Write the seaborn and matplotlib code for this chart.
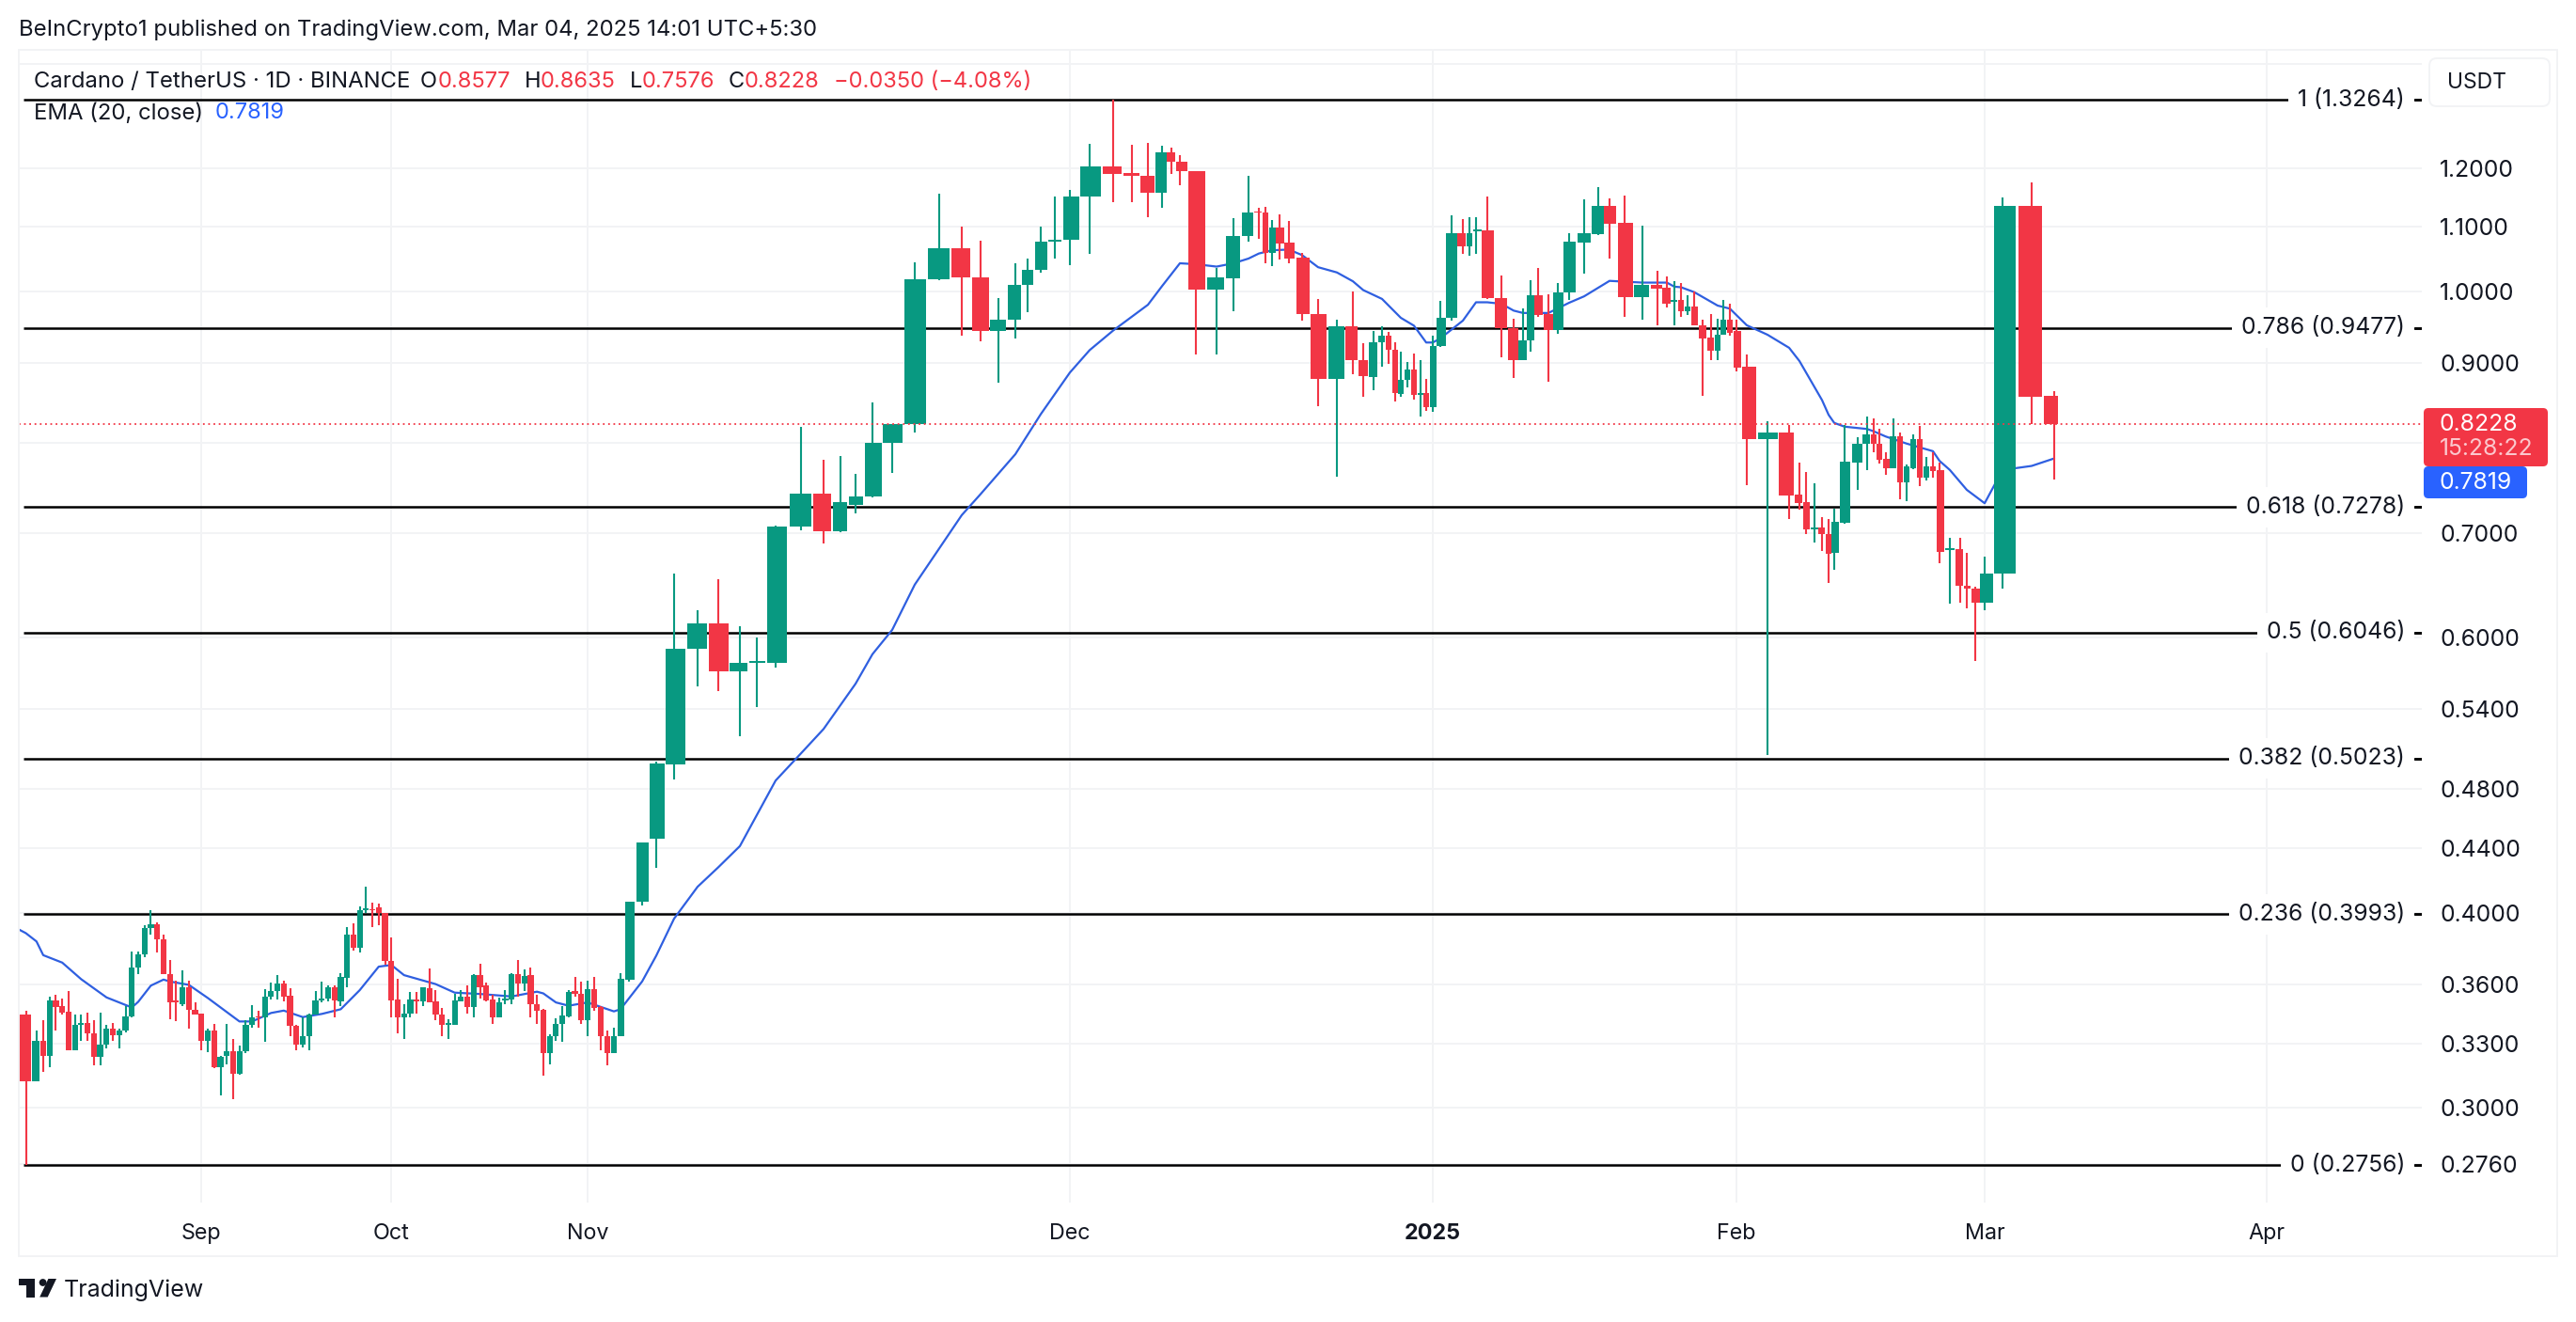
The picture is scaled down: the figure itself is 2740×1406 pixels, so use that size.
import matplotlib
matplotlib.use("Agg")
import matplotlib.pyplot as plt
import matplotlib.patches as patches
import matplotlib.transforms as mtransforms
from matplotlib.ticker import NullFormatter, NullLocator
import numpy as np
import pandas as pd
import seaborn as sns

W, H = 2740, 1406

# daily candles 2024-08-05 .. 2025-03-04
opens = [
    .3444, .3118, .3311, .3241, .3517, .3486, .3456, .3268, .3392, .3400,
    .3347, .3235, .3295, .3373, .3338, .3365, .3432, .3688, .3763, .3911,
    .3932, .3846, .3655, .3513, .3495, .3582, .3468, .3449, .3311, .3362,
    .3187, .3238, .3261, .3153, .3261, .3390, .3435, .3428, .3533, .3565,
    .3606, .3542, .3385, .3294, .3336, .3444, .3513, .3524, .3585, .3512,
    .3636, .3874, .3798, .4016, .4022, .4035, .3998, .3727, .3519, .3430,
    .3448, .3519, .3510, .3577, .3510, .3445, .3392, .3392, .3512, .3537,
    .3483, .3647, .3593, .3519, .3430, .3513, .3520, .3652, .3605, .3647,
    .3495, .3467, .3252, .3335, .3397, .3432, .3565, .3550, .3413, .3573,
    .3480, .3336, .3252, .3333, .3622, .4066, .4462, .4980, .5903, .6129,
    .5709, .5785, .5785, .7071, .7424, .7021, .7300, .7390, .8000, .8225,
    1.0184, 1.0660, 1.0210, .9430, .9600, 1.0106, 1.0320, 1.0770, 1.0790, 1.1500,
    1.2023, 1.1915, 1.1865, 1.1572, 1.2282, 1.2110, 1.1948, 1.0033, 1.0200, 1.0850,
    1.1258, 1.1235, 1.0582, 1.0987, 1.0748, 1.0520, .9680, .8787, .9497, .9045,
    .8820, .9275, .9375, .9182, .8600, .8780, .8915, .8590, .8615, .8436,
    .9225, .9620, 1.0895, 1.0693, 1.0935, 1.0945, .9900, .9475, .9037, .9300,
    .9950, .9680, .9453, .9985, 1.0750, 1.0885, 1.1355, 1.1065, .9916, 1.0105,
    1.0060, .9850, .9878, .9713, .9778, .9520, .9345, .9167, .9385, .9595,
    .9430, .8953, .8046, .8125, .7415, .7330, .7043, .7065, .6996, .6805,
    .7112, .7770, .7985, .8103, .7990, .7810, .7709, .8076, .7544, .7710,
    .8040, .7604, .7727, .7685, .6830, .6840, .6480, .6455, .6322, .6596,
    1.1348, .8577,
]
highs = [
    .3463, .3365, .3413, .3537, .3544, .3524, .3565, .3444, .3444, .3451,
    .3414, .3451, .3392, .3400, .3373, .3486, .3778, .3778, .3929, .4017,
    .3945, .3873, .3732, .3618, .3674, .3618, .3507, .3450, .3373, .3397,
    .3238, .3397, .3321, .3290, .3413, .3492, .3464, .3573, .3610, .3650,
    .3618, .3578, .3390, .3430, .3448, .3565, .3613, .3593, .3593, .3660,
    .3918, .3938, .4037, .4157, .4063, .4055, .4000, .3859, .3630, .3497,
    .3561, .3561, .3585, .3686, .3568, .3477, .3420, .3550, .3568, .3593,
    .3655, .3710, .3610, .3545, .3530, .3568, .3662, .3732, .3680, .3688,
    .3545, .3470, .3345, .3425, .3486, .3568, .3638, .3615, .3618, .3638,
    .3485, .3365, .3378, .3662, .4066, .4438, .5000, .6600, .6249, .6541,
    .6101, .6001, .7083, .8189, .7800, .7847, .7648, .8488, .8230, 1.0444,
    1.1555, 1.1000, 1.0780, .9900, 1.0422, 1.0500, 1.1000, 1.1502, 1.1624, 1.2428,
    1.3264, 1.2418, 1.2448, 1.2394, 1.2366, 1.2236, 1.1948, 1.0350, 1.1147, 1.1859,
    1.1322, 1.1335, 1.1118, 1.1203, 1.1103, 1.0585, .9892, .9590, 1.0000, .9268,
    .9438, .9506, .9426, .9284, .9151, .9016, .9126, .9042, .8796, .9375,
    .9868, 1.1188, 1.1135, 1.1155, 1.1155, 1.1501, 1.0243, .9606, .9754, 1.0170,
    1.0361, .9958, 1.0130, 1.0893, 1.1465, 1.1666, 1.1476, 1.1523, 1.1024, 1.0305,
    1.0232, 1.0160, 1.0125, .9946, 1.0000, .9595, .9680, .9606, .9883, .9830,
    .9600, .9110, .8259, .8210, .7769, .7664, .7534, .7175, .7154, .7260,
    .8210, .8067, .8315, .8292, .8164, .7888, .8292, .8123, .7745, .8103,
    .8205, .7835, .7886, .7775, .6954, .6954, .6798, .6470, .6766, 1.1491,
    1.1748, .8635,
]
lows = [
    .2756, .3118, .3162, .3187, .3365, .3444, .3265, .3265, .3311, .3311,
    .3195, .3195, .3274, .3311, .3274, .3354, .3428, .3655, .3745, .3875,
    .3775, .3655, .3421, .3408, .3488, .3374, .3445, .3268, .3255, .3183,
    .3054, .3200, .3039, .3150, .3252, .3378, .3378, .3305, .3520, .3520,
    .3512, .3337, .3268, .3280, .3268, .3442, .3505, .3512, .3430, .3487,
    .3585, .3783, .3775, .4000, .3916, .3930, .3703, .3427, .3350, .3320,
    .3430, .3450, .3485, .3508, .3413, .3335, .3320, .3392, .3510, .3450,
    .3427, .3525, .3510, .3395, .3430, .3495, .3495, .3533, .3565, .3427,
    .3395, .3145, .3197, .3311, .3305, .3430, .3537, .3397, .3337, .3460,
    .3268, .3195, .3252, .3333, .3615, .4043, .4274, .4872, .5586, .5547,
    .5193, .5421, .5745, .7037, .6899, .7011, .7210, .7380, .7657, .8126,
    1.0168, .9377, .9298, .8749, .9332, .9698, 1.0290, 1.0500, 1.0395, 1.0578,
    1.1411, 1.1411, 1.1157, 1.1312, 1.1890, 1.1700, .9113, .9113, .9719, 1.0772,
    1.0815, 1.0421, 1.0386, 1.0481, 1.0421, .9583, .8442, .7611, .8848, .8565,
    .8645, .8950, .8994, .8506, .8565, .8679, .8522, .8318, .8387, .8380,
    .9215, .9575, 1.0578, 1.0540, 1.0578, .9895, .9076, .8806, .9037, .9148,
    .9630, .8761, .9403, .9883, 1.0275, 1.0866, 1.0497, .9628, .9595, .9516,
    .9775, .9516, .9628, .9665, .9516, .8580, .9045, .9033, .9380, .9370,
    .8884, .7520, .5049, .7154, .7249, .6990, .6909, .6822, .6504, .6635,
    .7105, .7462, .7686, .7895, .7756, .7627, .7705, .7360, .7340, .7698,
    .7510, .7565, .7605, .6696, .6309, .6318, .6270, .5799, .6252, .6456,
    .8229, .7576,
]
closes = [
    .3118, .3311, .3241, .3517, .3480, .3453, .3268, .3392, .3400, .3347,
    .3235, .3295, .3373, .3338, .3365, .3432, .3688, .3763, .3911, .3932,
    .3846, .3655, .3505, .3505, .3582, .3468, .3445, .3311, .3362, .3186,
    .3235, .3261, .3153, .3261, .3392, .3430, .3428, .3537, .3565, .3606,
    .3537, .3385, .3294, .3336, .3444, .3513, .3524, .3585, .3513, .3638,
    .3874, .3798, .4016, .4025, .4015, .3998, .3727, .3517, .3430, .3448,
    .3519, .3511, .3582, .3508, .3444, .3392, .3400, .3517, .3537, .3483,
    .3647, .3585, .3517, .3430, .3507, .3524, .3655, .3605, .3643, .3495,
    .3462, .3252, .3337, .3397, .3438, .3561, .3550, .3413, .3573, .3478,
    .3333, .3252, .3333, .3630, .4066, .4438, .4986, .5903, .6129, .5709,
    .5785, .5797, .7071, .7424, .7021, .7330, .7390, .8002, .8227, 1.0184,
    1.0660, 1.0209, .9430, .9600, 1.0106, 1.0327, 1.0769, 1.0790, 1.1502, 1.2023,
    1.1890, 1.1855, 1.1572, 1.2282, 1.2104, 1.1942, 1.0033, 1.0209, 1.0856, 1.1242,
    1.1235, 1.0582, 1.0987, 1.0737, 1.0505, .9672, .8787, .9497, .9041, .8825,
    .9275, .9375, .9173, .8606, .8782, .8919, .8585, .8615, .8436, .9225,
    .9622, 1.0900, 1.0693, 1.0907, 1.0955, .9899, .9475, .9037, .9305, .9950,
    .9666, .9453, .9987, 1.0761, 1.0901, 1.1355, 1.1050, .9916, 1.0105, 1.0045,
    .9821, .9878, .9713, .9778, .9516, .9334, .9167, .9390, .9595, .9416,
    .8945, .8046, .8125, .7407, .7322, .7046, .7065, .6996, .6795, .7119,
    .7777, .7990, .8103, .7987, .7803, .7709, .8076, .7544, .7727, .8040,
    .7604, .7727, .7674, .6815, .6845, .6476, .6450, .6322, .6596, 1.1348,
    .8568, .8228,
]

ema_days = [
    -1, 0, 1, 2, 5, 8, 12, 16, 17, 19, 21, 22, 25, 28, 33, 35, 38, 40, 43, 46, 49,
    52, 55, 57, 59, 64, 67, 71, 76, 80, 81, 83, 85, 88, 92, 93, 95, 96, 97, 98, 99,
    100, 102, 103, 104, 106, 107, 108, 109, 111, 112, 114, 116, 118, 119, 120, 122, 123, 125, 126, 127,
    128, 129, 130, 132, 134, 135, 136, 137, 138, 139, 141, 144, 146, 148, 149, 150, 152, 154, 155, 156,
    157, 158, 161, 163, 164, 166, 168, 170, 171, 172, 174, 177, 179, 181, 182, 183, 184, 187, 188, 189,
    190, 192, 193, 195, 198, 202, 203, 204, 206, 208, 209, 210, 211,
]
ema_vals = [
    .3932, .3882, .3835, .3758, .3717, .3627, .3531, .3479, .3508, .3593, .3625, .3615, .3597, .3528, .3408, .3408, .3451, .3463, .3430, .3446, .3470,
    .3569, .3695, .3704, .3649, .3601, .3556, .3549, .3536, .3561, .3552, .3505, .3488, .3505, .3459, .3470, .3615, .3755, .3966, .4157, .4278,
    .4414, .4862, .5061, .5246, .5608, .5858, .6072, .6491, .7192, .7418, .7868, .8346, .8875, .9173, .9442, .9808, 1.0081, 1.0427, 1.0413, 1.0376,
    1.0427, 1.0500, 1.0578, 1.0629, 1.0640, 1.0553, 1.0367, 1.0287, 1.0154, 1.0023, .9893, .9621, .9510, .9277, .9277, .9333, .9581, .9844, .9844, .9822,
    .9724, .9690, .9690, .9837, .9931, 1.0160, 1.0134, 1.0134, 1.0073, 1.0065, .9993, .9796, .9752, .9516, .9384, .9205, .9027, .8522, .8339, .8240,
    .8194, .8166, .8138, .8075, .7992, .7903, .7791, .7687, .7465, .7319, .7687, .7733, .7819,
]

fib_levels = [1.3264, 0.9477, 0.7278, 0.6046, 0.5023, 0.3993, 0.2756]
fib_labels = ["1 (1.3264)", "0.786 (0.9477)", "0.618 (0.7278)", "0.5 (0.6046)",
              "0.382 (0.5023)", "0.236 (0.3993)", "0 (0.2756)"]

price_ticks = [0.276, 0.30, 0.33, 0.36, 0.40, 0.44, 0.48, 0.54, 0.60, 0.70, 0.80, 0.90, 1.0, 1.1, 1.2, 1.4]
price_labels = ["0.2760", "0.3000", "0.3300", "0.3600", "0.4000", "0.4400", "0.4800", "0.5400",
                "0.6000", "0.7000", "", "0.9000", "1.0000", "1.1000", "1.2000", ""]

month_starts = ["2024-09-01", "2024-10-01", "2024-11-01", "2024-12-01", "2025-01-01", "2025-02-01", "2025-03-01", "2025-04-01"]
month_labels = ["Sep", "Oct", "Nov", "Dec", "2025", "Feb", "Mar", "Apr"]

# the time axis of the picture is not linear (the image was stretched around big candles),
# so this table is the calibration of the x scale: day number -> pixel
scale_days = [-1, 0, 1, 2, 88] + list(range(93, 212)) + [239, 270]
scale_px = [
    10, 27.5, 38.8, 46, 625,
    660, 669, 683, 698, 717, 742, 764, 787, 805, 825, 852, 876, 894, 910, 928, 949, 973, 999, 1023, 1043,
    1062, 1080, 1093, 1107, 1122, 1138, 1159, 1184, 1204, 1221, 1236, 1246, 1255, 1272, 1294, 1312, 1328, 1339, 1346, 1353,
    1361, 1371, 1385, 1402, 1422, 1439, 1450, 1461, 1470, 1477, 1484, 1490, 1497, 1504, 1511, 1517, 1524, 1532, 1544, 1556,
    1563, 1570, 1582, 1597, 1610, 1620, 1628, 1636, 1647, 1657, 1669, 1685, 1700, 1712, 1728, 1747, 1763, 1773, 1781, 1788,
    1795, 1802, 1811, 1820, 1827, 1833, 1840, 1847, 1858, 1880, 1903, 1914, 1921, 1930, 1938, 1945, 1951, 1962, 1976, 1986,
    1993, 1999, 2006, 2014, 2021, 2028, 2035, 2042, 2049, 2056, 2063, 2074, 2085, 2092, 2101, 2111, 2130, 2161, 2185,
    2411, 2659,
]

GREEN = "#089981"
RED = "#F23645"
BLUE = "#2962FF"
INK = "#131722"
GRID = "#F2F3F5"
FS = 17.2
FS_NUM = 17.8

sns.set_theme(style="white")
plt.rcParams["font.family"] = ["Inter", "DejaVu Sans"]

dates = pd.date_range("2024-08-05", periods=len(opens), freq="D")
days = np.array((dates - dates[0]).days)
o, h, l, c = map(np.array, (opens, highs, lows, closes))
colors = np.where(c >= o, GREEN, RED)

fig = plt.figure(figsize=(W / 100, H / 100), dpi=100, facecolor="white")
px = mtransforms.Affine2D().scale(1, -1).translate(0, H)
ax = fig.add_axes([20 / W, 1 - 1279 / H, 2556 / W, 1226 / H])


def to_px(x):
    return np.interp(x, scale_days, scale_px)


def to_day(x):
    return np.interp(x, scale_px, scale_days)


ax.set_xscale("function", functions=(to_px, to_day))
ax.set_yscale("log")
ax.set_xlim(to_day(20), to_day(2576))
ax.set_ylim(0.2609, 1.4285)

ax.grid(True, color=GRID, lw=1.4, zorder=0)
ax.set_axisbelow(True)
for s in ax.spines.values():
    s.set_visible(False)

# fib levels
yaxis_tf = ax.get_yaxis_transform()
for lev, lab in zip(fib_levels, fib_labels):
    ax.plot([0.0018, 1], [lev, lev], color="black", lw=1.8, transform=yaxis_tf, zorder=2, solid_capstyle="butt")
    ax.text(0.99296, lev, lab, transform=yaxis_tf, ha="right", va="center", color=INK, fontsize=FS_NUM, zorder=7,
            bbox=dict(boxstyle="square,pad=0.4", fc="white", ec="none"))

sns.lineplot(x=ema_days, y=ema_vals, ax=ax, color="#2F5FE0", lw=1.6, estimator=None, zorder=3)

ax.vlines(days, l, h, colors=colors, lw=1.5, zorder=4)
ax.bar(days, np.abs(c - o), bottom=np.minimum(o, c), width=0.92, color=colors, linewidth=0, zorder=5)

ax.axhline(closes[-1], color=RED, lw=1.3, linestyle=(0, (1, 2.1)), zorder=6)

ax.set_xlabel("")
ax.set_ylabel("")
ax.yaxis.tick_right()
ax.set_yticks(price_ticks, labels=price_labels)
ax.yaxis.set_minor_locator(NullLocator())
ax.yaxis.set_minor_formatter(NullFormatter())
tick_days = (pd.to_datetime(month_starts) - dates[0]).days
ax.set_xticks(tick_days, labels=month_labels)
ax.tick_params(axis="y", length=0, pad=13.7, labelsize=FS_NUM, labelcolor=INK)
ax.tick_params(axis="x", length=0, pad=16, labelsize=16.8, labelcolor=INK)
ax.get_xticklabels()[4].set_fontweight("bold")

# small dashes between the fib labels and the price scale
for lev in fib_levels:
    ax.plot([0.99687, 1], [lev, lev], color="black", lw=1.8, transform=yaxis_tf, zorder=8, solid_capstyle="butt")

# outer frame
fig.add_artist(patches.Rectangle((20, 53), 2700, 1283, transform=px, fill=False, ec=GRID, lw=1.4))


def txt(x, y, s, color=INK, **kw):
    kw.setdefault("fontsize", FS)
    fig.text(x, y, s, color=color, transform=px, va="center", **kw)


txt(20, 32, "BeInCrypto1 published on TradingView.com, Mar 04, 2025 14:01 UTC+5:30")
txt(36, 87, "Cardano / TetherUS · 1D · BINANCE")
for x, s, col in [(447, "O", INK), (466, "0.8577", RED), (558, "H", INK), (575, "0.8635", RED),
                  (670, "L", INK), (683, "0.7576", RED), (775, "C", INK), (792, "0.8228", RED),
                  (887, "−0.0350 (−4.08%)", RED)]:
    txt(x, 87, s, col, fontsize=17)
txt(36, 120.5, "EMA (20, close)")
txt(229, 120.5, "0.7819", BLUE, fontsize=17)

# price tags
fig.add_artist(patches.FancyBboxPatch((2578, 434), 132, 62, transform=px, fc=RED, ec="none",
                                      boxstyle="round,pad=0,rounding_size=5"))
fig.add_artist(patches.FancyBboxPatch((2578, 496), 110, 34, transform=px, fc=BLUE, ec="none",
                                      boxstyle="round,pad=0,rounding_size=5"))
txt(2595, 451, "0.8228", "white", fontsize=FS_NUM)
txt(2595, 478, "15:28:22", "#FBC8CD", fontsize=FS_NUM)
txt(2595, 513, "0.7819", "white", fontsize=FS_NUM)

# currency button
fig.add_artist(patches.FancyBboxPatch((2584, 62), 128, 51, transform=px, fc="white", ec=GRID, lw=1.4,
                                      boxstyle="round,pad=0,rounding_size=8"))
txt(2603, 87.5, "USDT", fontsize=16.5)

# TradingView logo
fig.add_artist(patches.Polygon([(20.3, 1360), (36.5, 1360), (36.5, 1379.5), (27.7, 1379.5), (27.7, 1366.7), (20.3, 1366.7)],
                               transform=px, fc=INK, ec="none"))
fig.add_artist(patches.Circle((45.6, 1364), 3.9, transform=px, fc=INK, ec="none"))
fig.add_artist(patches.Polygon([(51.4, 1360), (60, 1360), (50.7, 1379.5), (42.2, 1379.5)], transform=px, fc=INK, ec="none"))
txt(67.5, 1372, "TradingView", fontsize=18)

fig.savefig("out.png", dpi=100, facecolor="white")
plt.close(fig)
